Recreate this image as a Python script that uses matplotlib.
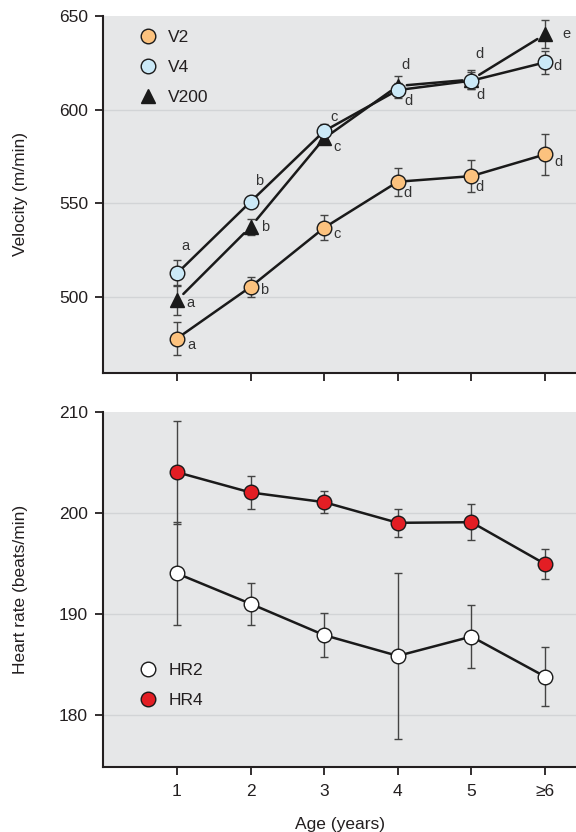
import matplotlib
matplotlib.use("Agg")
import matplotlib.pyplot as plt
from matplotlib.lines import Line2D

plt.rcParams["font.family"] = ["Liberation Sans", "DejaVu Sans"]

# ---- data ----
ages = [1, 2, 3, 4, 5, 6]
age_labels = ["1", "2", "3", "4", "5", "≥6"]

v2 = [477.6, 505.2, 536.8, 561.4, 564.4, 576.0]
v2_err = [9.0, 5.4, 6.8, 7.4, 8.5, 11.1]
v2_sig = ["a", "b", "c", "d", "d", "d"]

v4 = [512.4, 550.7, 588.5, 610.4, 615.4, 625.2]
v4_err = [7.0, 3.0, 3.5, 4.0, 4.5, 6.1]
v4_sig = ["a", "b", "c", "d", "d", "d"]

v200 = [498.0, 537.3, 584.6, 612.6, 616.0, 640.2]
v200_err = [8.0, 4.3, 3.0, 5.3, 5.3, 7.4]
v200_sig = ["a", "b", "c", "d", "d", "e"]

hr2 = [194.0, 191.0, 187.9, 185.85, 187.76, 183.8]
hr2_err = [5.1, 2.1, 2.2, 8.2, 3.1, 2.9]
hr4 = [204.0, 202.0, 201.04, 199.0, 199.06, 194.93]
hr4_err = [5.1, 1.65, 1.1, 1.4, 1.8, 1.5]

# ---- style ----
TXT = "#231f20"
BG = "#e6e7e8"
GRID = "#d2d4d6"
C_V2 = "#fcc27e"
C_V4 = "#cbe9f7"
C_HR4 = "#e31e24"
FS = 12.5

fig = plt.figure(figsize=(5.76, 8.32), dpi=100)
ax1 = fig.add_axes([0.1794, 0.552, 1.0 - 0.1794, 0.9808 - 0.552])
ax2 = fig.add_axes([0.1794, 0.0785, 1.0 - 0.1794, 0.5054 - 0.0785])


def style_axes(ax):
    ax.set_facecolor(BG)
    for s in ("top", "right"):
        ax.spines[s].set_visible(False)
    for s in ("left", "bottom"):
        ax.spines[s].set_linewidth(1.5)
        ax.spines[s].set_color(TXT)
    ax.tick_params(direction="out", length=6, width=1.3, color=TXT,
                   labelsize=FS, labelcolor=TXT)
    ax.tick_params(axis="y", pad=5)
    ax.tick_params(axis="x", pad=6.5)
    ax.set_xlim(0, 6.42)
    ax.set_xticks(ages)
    ax.yaxis.grid(True, color=GRID, lw=1.0)
    ax.set_axisbelow(True)


def hide_top_grid(ax):
    ax.yaxis.get_gridlines()[-1].set_visible(False)


ebkw = dict(ls="none", ecolor="#444444", elinewidth=1.0, capsize=2.9,
            capthick=1.0, zorder=2)
lnkw = dict(color="#1a1a1a", lw=1.8, zorder=3)
mkkw = dict(ls="none", markeredgecolor="#1a1a1a", markeredgewidth=1.0)

# ---- velocity panel ----
style_axes(ax1)
ax1.set_ylim(459.3, 650)
ax1.set_yticks([500, 550, 600, 650])
hide_top_grid(ax1)
ax1.tick_params(axis="x", labelbottom=False)
ax1.set_ylabel("Velocity (m/min)", fontsize=FS, color=TXT, labelpad=22)

ax1.errorbar(ages, v2, yerr=v2_err, **ebkw)
ax1.errorbar(ages, v200, yerr=v200_err, **ebkw)
ax1.errorbar(ages, v4, yerr=v4_err, **ebkw)

ax1.plot(ages, v2, **lnkw)
ax1.plot(ages, v4, **lnkw)
# V200 segments stop short of the markers
for i in range(len(ages) - 1):
    ax1.annotate("", xy=(ages[i + 1], v200[i + 1]), xytext=(ages[i], v200[i]),
                 arrowprops=dict(arrowstyle="-", color="#1a1a1a", lw=1.8,
                                 shrinkA=6.5, shrinkB=6.5), zorder=3)

ax1.plot(ages, v2, marker="o", markersize=10.5, markerfacecolor=C_V2, zorder=4, **mkkw)
ax1.plot(ages, v200, marker="^", markersize=10, markerfacecolor="#1a1a1a", zorder=4, **mkkw)
ax1.plot(ages, v4, marker="o", markersize=10.5, markerfacecolor=C_V4, zorder=5, **mkkw)

# significance letters (offsets in points from each point)
v4_off = [(6.3, 19.9), (5.8, 15.1), (7.2, 10.1), (5.8, 18.0), (6.0, 19.4), (9.1, -2.9)]
v200_off = [(9.9, -1.9), (10.5, 0.0), (9.6, -6.5), (7.7, -10.8), (6.2, -10.8), (15.1, 0.0)]
v2_off = [(10.4, -4.8), (9.4, -2.4), (9.6, -4.8), (7.2, -8.4), (5.5, -7.7), (9.6, -5.8)]
for vals, sig, offs in ((v4, v4_sig, v4_off), (v200, v200_sig, v200_off), (v2, v2_sig, v2_off)):
    for x, y, s, o in zip(ages, vals, sig, offs):
        ax1.annotate(s, (x, y), xytext=o, textcoords="offset points",
                     ha="center", va="center", fontsize=10.5, color="#333333", zorder=6)

legkw = dict(loc="upper left", frameon=False, fontsize=FS, handlelength=1.0,
             handletextpad=0.65, labelspacing=0.87, borderaxespad=0, borderpad=0)

h1 = [
    Line2D([], [], marker="o", markersize=10.5, markerfacecolor=C_V2, **mkkw),
    Line2D([], [], marker="o", markersize=10.5, markerfacecolor=C_V4, **mkkw),
    Line2D([], [], marker="^", markersize=10, markerfacecolor="#1a1a1a", **mkkw),
]
leg1 = ax1.legend(h1, ["V2", "V4", "V200"], bbox_to_anchor=(0.077, 0.962), **legkw)
for t in leg1.get_texts():
    t.set_color(TXT)

# ---- heart-rate panel ----
style_axes(ax2)
ax2.set_ylim(174.9, 210)
ax2.set_yticks([180, 190, 200, 210])
hide_top_grid(ax2)
ax2.set_xticklabels(age_labels)
ax2.set_ylabel("Heart rate (beats/min)", fontsize=FS, color=TXT, labelpad=22)
ax2.set_xlabel("Age (years)", fontsize=FS, color=TXT, labelpad=13)

ax2.errorbar(ages, hr2, yerr=hr2_err, **ebkw)
ax2.errorbar(ages, hr4, yerr=hr4_err, **ebkw)
ax2.plot(ages, hr2, **lnkw)
ax2.plot(ages, hr4, **lnkw)
ax2.plot(ages, hr2, marker="o", markersize=10.5, markerfacecolor="white", zorder=4, **mkkw)
ax2.plot(ages, hr4, marker="o", markersize=10.5, markerfacecolor=C_HR4, zorder=4, **mkkw)

h2 = [
    Line2D([], [], marker="o", markersize=10.5, markerfacecolor="white", **mkkw),
    Line2D([], [], marker="o", markersize=10.5, markerfacecolor=C_HR4, **mkkw),
]
leg2 = ax2.legend(h2, ["HR2", "HR4"], bbox_to_anchor=(0.077, 0.292), **legkw)
for t in leg2.get_texts():
    t.set_color(TXT)

fig.savefig("out.png", dpi=100, facecolor="white")
